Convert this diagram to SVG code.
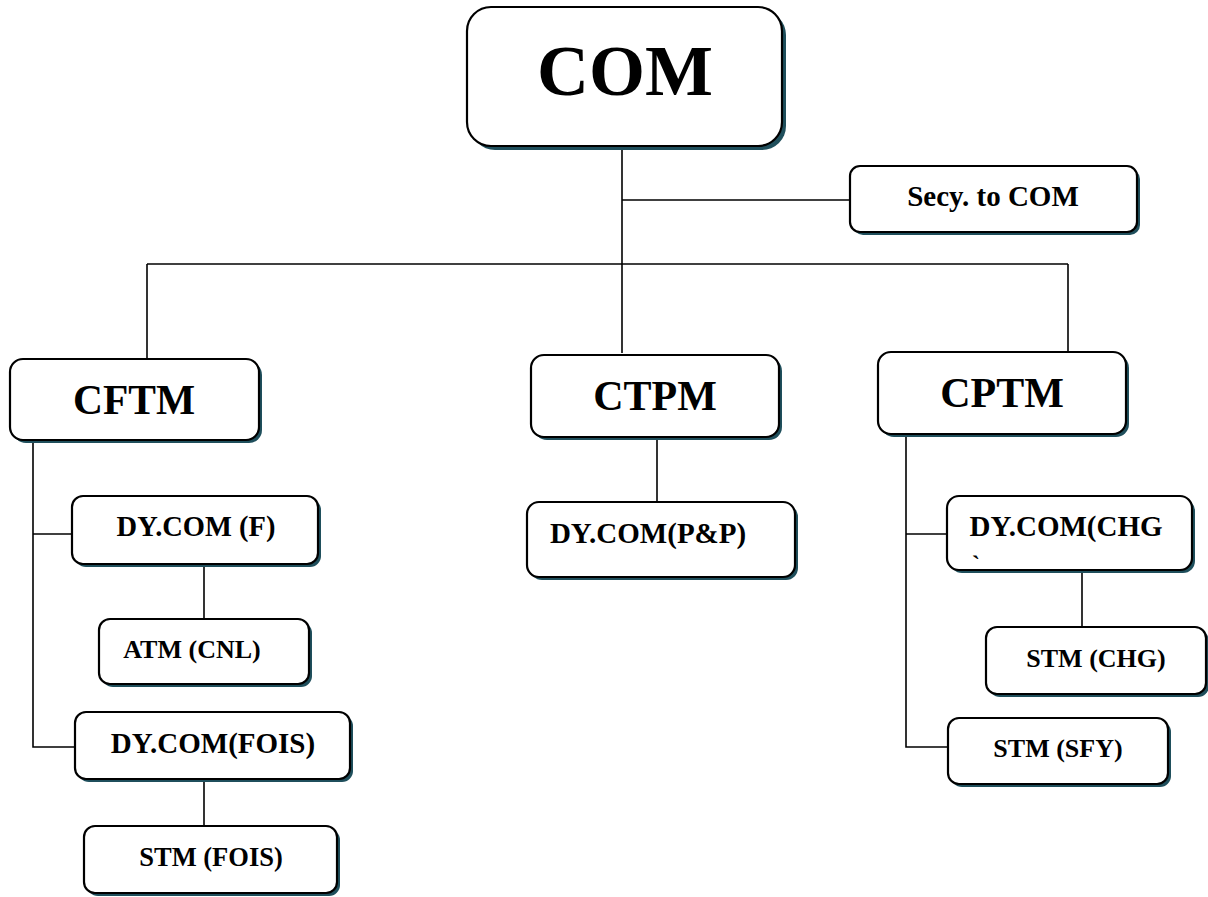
<svg xmlns="http://www.w3.org/2000/svg" width="1208" height="897" viewBox="0 0 1208 897">
<style>
.sh{fill:#1f4f5c}
.bx{fill:#fff;stroke:#000;stroke-width:2.2}
.t{font-family:"Liberation Serif","Times New Roman",serif;font-weight:bold;fill:#000;text-anchor:middle}
.ln{fill:none;stroke:#000;stroke-width:1.6}
</style>
<rect width="1208" height="897" fill="#fff"/>
<g id="connectors">
<path class="ln" d="M622 146V353"/>
<path class="ln" d="M622 200H850"/>
<path class="ln" d="M147 264H1068"/>
<path class="ln" d="M147 264V359"/>
<path class="ln" d="M1068 264V352"/>
<path class="ln" d="M33 440V747H75"/>
<path class="ln" d="M33 534H72"/>
<path class="ln" d="M204 564V619"/>
<path class="ln" d="M204 779V826"/>
<path class="ln" d="M657 437V502"/>
<path class="ln" d="M906 434V747H948"/>
<path class="ln" d="M906 534H947"/>
<path class="ln" d="M1082 570V627"/>
</g>
<g id="com">
<rect class="sh" x="471" y="11" width="315" height="139" rx="24"/>
<rect class="bx" x="467" y="7" width="315" height="139" rx="24"/>
<text class="t" x="625" y="95" font-size="72">COM</text>
</g>
<g id="secy">
<rect class="sh" x="853" y="169" width="287" height="66" rx="10"/>
<rect class="bx" x="850" y="166" width="287" height="66" rx="10"/>
<text class="t" x="993" y="206" font-size="29">Secy. to COM</text>
</g>
<g id="cftm">
<rect class="sh" x="13" y="362" width="249" height="81" rx="13"/>
<rect class="bx" x="10" y="359" width="249" height="81" rx="13"/>
<text class="t" x="134" y="414" font-size="41.5">CFTM</text>
</g>
<g id="ctpm">
<rect class="sh" x="534" y="358" width="248" height="82" rx="13"/>
<rect class="bx" x="531" y="355" width="248" height="82" rx="13"/>
<text class="t" x="655" y="410" font-size="42">CTPM</text>
</g>
<g id="cptm">
<rect class="sh" x="881" y="355" width="248" height="82" rx="13"/>
<rect class="bx" x="878" y="352" width="248" height="82" rx="13"/>
<text class="t" x="1002" y="407" font-size="42">CPTM</text>
</g>
<g id="dycom-f">
<rect class="sh" x="75" y="499" width="246" height="68" rx="11"/>
<rect class="bx" x="72" y="496" width="246" height="68" rx="11"/>
<text class="t" x="196" y="536" font-size="28.5">DY.COM (F)</text>
</g>
<g id="atm-cnl">
<rect class="sh" x="102" y="622" width="210" height="65" rx="11"/>
<rect class="bx" x="99" y="619" width="210" height="65" rx="11"/>
<text class="t" x="192" y="658" font-size="26">ATM (CNL)</text>
</g>
<g id="dycom-fois">
<rect class="sh" x="78" y="715" width="275" height="67" rx="11"/>
<rect class="bx" x="75" y="712" width="275" height="67" rx="11"/>
<text class="t" x="213" y="753" font-size="29">DY.COM(FOIS)</text>
</g>
<g id="stm-fois">
<rect class="sh" x="87" y="829" width="253" height="67" rx="11"/>
<rect class="bx" x="84" y="826" width="253" height="67" rx="11"/>
<text class="t" x="211" y="866" font-size="26.5">STM (FOIS)</text>
</g>
<g id="dycom-pp">
<rect class="sh" x="530" y="505" width="268" height="75" rx="12"/>
<rect class="bx" x="527" y="502" width="268" height="75" rx="12"/>
<text class="t" x="648" y="543" font-size="29">DY.COM(P&amp;P)</text>
</g>
<g id="dycom-chg">
<rect class="sh" x="950" y="499" width="245" height="74" rx="12"/>
<rect class="bx" x="947" y="496" width="245" height="74" rx="12"/>
<text class="t" x="1066" y="536" font-size="29">DY.COM(CHG</text>
<text class="t" x="976" y="572" font-size="24">`</text>
</g>
<g id="stm-chg">
<rect class="sh" x="989" y="630" width="220" height="67" rx="11"/>
<rect class="bx" x="986" y="627" width="220" height="67" rx="11"/>
<text class="t" x="1096" y="667" font-size="26">STM (CHG)</text>
</g>
<g id="stm-sfy">
<rect class="sh" x="951" y="721" width="220" height="66" rx="11"/>
<rect class="bx" x="948" y="718" width="220" height="66" rx="11"/>
<text class="t" x="1058" y="757" font-size="26">STM (SFY)</text>
</g>
</svg>
